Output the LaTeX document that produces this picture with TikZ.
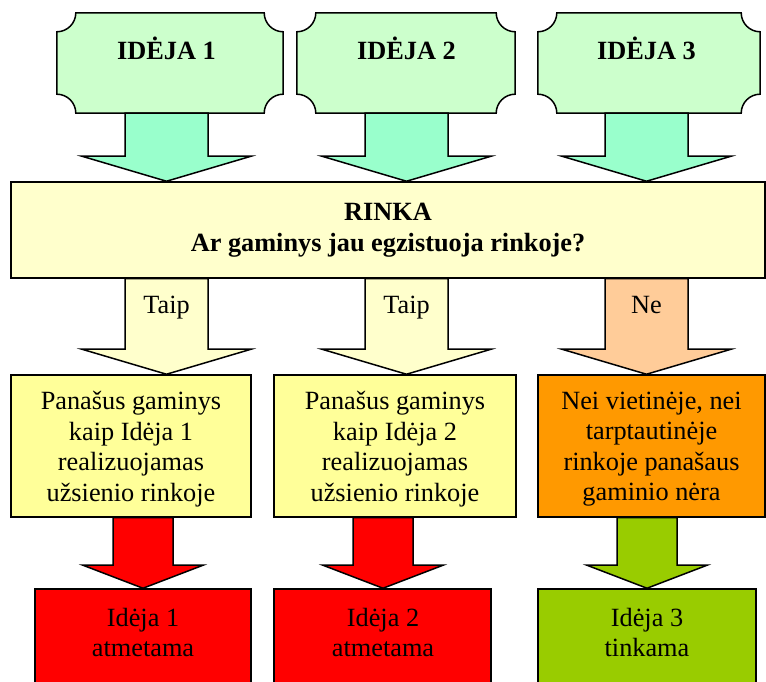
\documentclass[tikz,border=0pt]{standalone}
\usepackage{fontspec}
\setmainfont{Liberation Serif}
\usetikzlibrary{calc}

\definecolor{plaquegreen}{HTML}{CCFFCC}
\definecolor{aquaarrow}{HTML}{99FFCC}
\definecolor{paleyellow}{HTML}{FFFFCC}
\definecolor{lightyellow}{HTML}{FFFF99}
\definecolor{peach}{HTML}{FFCC99}
\definecolor{deeporange}{HTML}{FF9900}
\definecolor{pureRed}{HTML}{FF0000}
\definecolor{olivegreen}{HTML}{99CC00}

\tikzset{
  outline/.style={draw=black, line width=1.5pt, line join=miter},
  bigfont/.style={font=\fontsize{26.3}{30.5}\selectfont},
  box/.style={outline, rectangle, inner sep=0pt, align=center, bigfont},
  plaquebox/.style={rectangle, inner sep=0pt, minimum height=100pt},
  title/.style={bigfont, font=\fontsize{26.3}{30.5}\selectfont\bfseries, anchor=base, inner sep=0pt},
  label/.style={bigfont, anchor=base, inner sep=0pt},
  boxtext/.style={bigfont, anchor=center, align=center, inner sep=0pt},
  plaque/.style={outline, fill=plaquegreen},
}

% plaque outline (rectangle with concave corner notches) around a node
\newcommand\plaqueshape[1]{%
  \filldraw[plaque] let \p1=(#1.south west), \p2=(#1.north east),
      \n1={19pt}, \n2={10.5pt} in
    (\x1+\n1,\y2) -- (\x2-\n1,\y2)
    .. controls (\x2-\n1,\y2-\n2) and (\x2-\n2,\y2-\n1) .. (\x2,\y2-\n1)
    -- (\x2,\y1+\n1)
    .. controls (\x2-\n2,\y1+\n1) and (\x2-\n1,\y1+\n2) .. (\x2-\n1,\y1)
    -- (\x1+\n1,\y1)
    .. controls (\x1+\n1,\y1+\n2) and (\x1+\n2,\y1+\n1) .. (\x1,\y1+\n1)
    -- (\x1,\y2-\n1)
    .. controls (\x1+\n2,\y2-\n1) and (\x1+\n1,\y2-\n2) .. (\x1+\n1,\y2)
    -- cycle;}

% block arrow: #1 fill, #2 axis coordinate, #3 source node, #4 target node,
% #5 half shaft width, #6 half head width, #7 head length
\newcommand\blockarrow[7]{%
  \filldraw[outline, fill=#1] let \p1=(#2 |- #3.south), \p2=(#2 |- #4.north) in
    (\x1-#5,\y1) -- (\x1-#5,\y2+#7) -- (\x1-#6,\y2+#7) -- (\x2,\y2)
    -- (\x1+#6,\y2+#7) -- (\x1+#5,\y2+#7) -- (\x1+#5,\y1) -- cycle;}

\begin{document}
\begin{tikzpicture}[x=1pt,y=1pt]
\useasboundingbox (0,0) rectangle (766,682);
\clip (0,0) rectangle (766,682);

% axes of the arrow columns
\coordinate (a1) at (166.5,0);
\coordinate (a2) at (406.5,0);
\coordinate (a3) at (646.5,0);
\coordinate (b1) at (143,0);
\coordinate (b2) at (383,0);
\coordinate (b3) at (647,0);

% idea plaques
\node[plaquebox, minimum width=226pt] (p1) at (170,619) {};
\node[plaquebox, minimum width=218pt] (p2) at (406,619) {};
\node[plaquebox, minimum width=222pt] (p3) at (649,619) {};
\plaqueshape{p1}
\plaqueshape{p2}
\plaqueshape{p3}
\node[title] (p1t) at ($(a1 |- p1.center)+(0,3)$) {IDĖJA 1};
\node[title] (p2t) at ($(a2 |- p2.center)+(0,3)$) {IDĖJA 2};
\node[title] (p3t) at ($(a3 |- p3.center)+(0,3)$) {IDĖJA 3};

% market question
\node[box, fill=paleyellow, minimum width=754pt, minimum height=96pt,
      font=\fontsize{26.3}{30.5}\selectfont\bfseries] (r) at (388,452)
  {RINKA\\Ar gaminys jau egzistuoja rinkoje?};

% findings
\node[box, fill=lightyellow, minimum width=240pt, minimum height=142pt] (m1) at (131,236) {};
\node[box, fill=lightyellow, minimum width=242pt, minimum height=142pt] (m2) at (395,236) {};
\node[box, fill=deeporange, minimum width=227pt, minimum height=142pt] (m3) at (651.5,236) {};
\node[boxtext] (m1t) at ($(m1.center)+(0,-3)$)
  {Panašus gaminys\\kaip Idėja 1\\realizuojamas\\užsienio rinkoje};
\node[boxtext] (m2t) at ($(m2.center)+(0,-3)$)
  {Panašus gaminys\\kaip Idėja 2\\realizuojamas\\užsienio rinkoje};
\node[boxtext] (m3t) at ($(m3.center)+(0,-3)$)
  {Nei vietinėje, nei\\tarptautinėje\\rinkoje panašaus\\gaminio nėra};

% verdicts
\node[box, fill=pureRed, minimum width=216pt, minimum height=123pt] (v1) at (143,31.5) {};
\node[box, fill=pureRed, minimum width=217pt, minimum height=123pt] (v2) at (382.5,31.5) {};
\node[box, fill=olivegreen, minimum width=218pt, minimum height=123pt] (v3) at (647,31.5) {};
\node[boxtext] (v1t) at (b1 |- 0,49.5) {Idėja 1\\atmetama};
\node[boxtext] (v2t) at (b2 |- 0,49.5) {Idėja 2\\atmetama};
\node[boxtext] (v3t) at (b3 |- 0,49.5) {Idėja 3\\tinkama};

% arrows from the plaques into the market question
\blockarrow{aquaarrow}{a1}{p1}{r}{41.5pt}{84.5pt}{25pt}
\blockarrow{aquaarrow}{a2}{p2}{r}{41.5pt}{84.5pt}{25pt}
\blockarrow{aquaarrow}{a3}{p3}{r}{41.5pt}{84.5pt}{25pt}

% answers
\blockarrow{paleyellow}{a1}{r}{m1}{41.5pt}{84.5pt}{25pt}
\blockarrow{paleyellow}{a2}{r}{m2}{41.5pt}{84.5pt}{25pt}
\blockarrow{peach}{a3}{r}{m3}{41.5pt}{84.5pt}{25pt}
\node[label] (l1) at ($(a1 |- r.south)+(0,-35)$) {Taip};
\node[label] (l2) at ($(a2 |- r.south)+(0,-35)$) {Taip};
\node[label] (l3) at ($(a3 |- r.south)+(0,-35)$) {Ne};

% arrows to the verdicts
\blockarrow{pureRed}{b1}{m1}{v1}{30pt}{60pt}{23pt}
\blockarrow{pureRed}{b2}{m2}{v2}{30pt}{60pt}{23pt}
\blockarrow{olivegreen}{b3}{m3}{v3}{30pt}{60pt}{23pt}
\end{tikzpicture}
\end{document}
